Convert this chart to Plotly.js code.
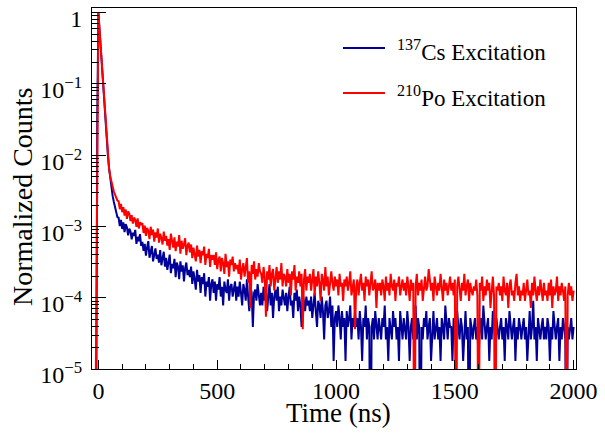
<!DOCTYPE html>
<html>
<head>
<meta charset="utf-8">
<script src="https://cdn.plot.ly/plotly-3.0.1.min.js"></script>
<style>
  html, body { margin: 0; padding: 0; background: #ffffff; }
  #chart { width: 605px; height: 434px; }
</style>
</head>
<body>
<div id="chart"></div>
<script>
// ---- Data ----
// Histogram binning (ns): first bin centre and bin width
const binStartNs = -15;
const binWidthNs = 5;

// 137Cs excitation: counts per bin (normalized to the peak bin when drawn)
const cs137Counts = [
  0, 0, 2500, 77000, 43000, 23500, 12600, 6800, 3750, 2100, 1240, 760, 500, 350, 262, 205, 170, 138, 121, 104,
  102, 78, 95, 71, 88, 64, 83, 75, 58, 72, 66, 51, 63, 57, 69, 44, 55, 48, 60, 41,
  47, 35, 44, 30, 39, 48, 28, 36, 41, 25, 33, 38, 27, 31, 24, 36, 22, 30, 34, 21,
  28, 19, 26, 31, 17, 23, 20, 27, 15, 24, 21, 14, 25, 18, 22, 13, 20, 24, 16, 19,
  15, 21, 12, 18, 14, 10, 19, 13, 16, 9, 15, 12, 17, 8, 13, 11, 15, 7, 12, 14,
  9, 13, 7, 12, 10, 15, 8, 11, 6, 13, 10, 9, 14, 7, 11, 12, 8, 10, 13, 7,
  11, 8, 13, 9, 6, 12, 10, 7, 14, 8, 5, 11, 9, 3, 9, 10, 7, 12, 8, 6,
  9, 6, 11, 7, 10, 5, 8, 12, 6, 9, 4, 8, 10, 7, 11, 5, 8, 6, 10, 7,
  6, 9, 5, 8, 11, 6, 7, 4, 9, 7, 10, 5, 8, 6, 3, 9, 7, 5, 8, 6,
  7, 5, 8, 4, 6, 9, 5, 3, 7, 6, 4, 8, 5, 2, 6, 7, 4, 5, 8, 3,
  6, 1, 4, 5, 3, 6, 4, 2, 5, 3, 4, 1, 5, 3, 4, 6, 2, 4, 3, 5,
  3, 4, 2, 5, 3, 1, 4, 3, 6, 2, 4, 3, 0, 3, 4, 2, 5, 3, 2, 4,
  3, 2, 4, 3, 6, 2, 3, 1, 4, 3, 2, 5, 3, 4, 2, 3, 1, 5, 3, 2,
  4, 3, 2, 5, 3, 1, 3, 4, 2, 3, 6, 2, 4, 3, 0, 3, 2, 4, 3, 5,
  2, 3, 4, 1, 3, 5, 2, 3, 4, 2, 3, 1, 4, 3, 2, 6, 3, 2, 4, 3,
  3, 1, 4, 2, 3, 5, 3, 2, 4, 3, 1, 3, 5, 2, 3, 0, 4, 3, 2, 3,
  4, 2, 3, 1, 3, 4, 2, 6, 3, 2, 3, 4, 1, 3, 2, 5, 3, 2, 4, 3,
  2, 3, 4, 2, 3, 1, 4, 3, 2, 5, 3, 2, 3, 4, 1, 3, 2, 4, 3, 2,
  3, 4, 2, 3, 1, 3, 5, 2, 3, 7, 2, 3, 1, 4, 3, 2, 3, 4, 2, 3,
  2, 4, 3, 1, 3, 2, 5, 3, 2, 3, 4, 1, 3, 2, 4, 3, 2, 0, 3, 2,
  3, 4, 2, 3
];

// 210Po excitation: counts per bin (normalized to the peak bin when drawn)
const po210Counts = [
  0, 3, 2800, 55500, 31100, 17200, 9440, 5160, 2830, 1500, 830, 510, 355, 278, 233, 200, 172, 155, 139, 128,
  126, 97, 115, 88, 104, 79, 96, 71, 90, 84, 66, 80, 61, 74, 69, 55, 72, 52, 64, 58,
  62, 45, 57, 41, 53, 48, 37, 55, 42, 50, 34, 46, 39, 52, 33, 44, 38, 31, 47, 35,
  41, 30, 37, 26, 44, 32, 28, 39, 25, 34, 29, 42, 23, 35, 27, 31, 38, 22, 30, 33,
  24, 31, 20, 28, 23, 18, 30, 21, 26, 17, 25, 22, 29, 16, 23, 20, 27, 15, 22, 19,
  22, 16, 24, 14, 19, 21, 13, 20, 17, 12, 23, 15, 18, 11, 19, 16, 21, 13, 17, 14,
  16, 12, 19, 10, 14, 17, 11, 15, 20, 9, 13, 4, 16, 12, 18, 10, 14, 11, 17, 13,
  12, 9, 15, 11, 3, 13, 10, 16, 8, 12, 14, 7, 11, 15, 9, 13, 10, 17, 8, 12,
  11, 8, 14, 9, 12, 6, 13, 10, 16, 7, 11, 9, 13, 8, 12, 2, 10, 14, 7, 11,
  9, 12, 7, 10, 14, 6, 11, 8, 13, 9, 5, 12, 10, 7, 15, 8, 11, 6, 10, 13,
  9, 7, 11, 8, 10, 6, 12, 8, 9, 5, 10, 8, 11, 7, 9, 13, 6, 8, 10, 2,
  8, 10, 6, 9, 12, 7, 9, 5, 11, 8, 10, 6, 9, 13, 7, 8, 10, 4, 9, 7,
  9, 6, 10, 8, 5, 11, 7, 9, 6, 12, 8, 7, 10, 5, 9, 8, 11, 6, 8, 10,
  7, 9, 6, 11, 8, 5, 10, 7, 9, 0, 8, 12, 6, 9, 7, 10, 5, 8, 11, 7,
  8, 14, 10, 7, 9, 5, 11, 8, 6, 9, 7, 12, 8, 5, 10, 7, 9, 6, 8, 11,
  7, 9, 6, 10, 0, 8, 11, 7, 5, 9, 7, 12, 6, 8, 10, 5, 9, 7, 6, 8,
  7, 10, 6, 0, 9, 7, 11, 5, 8, 6, 10, 7, 9, 4, 8, 11, 6, 0, 8, 7,
  9, 6, 8, 5, 11, 7, 6, 9, 4, 8, 10, 6, 7, 5, 9, 12, 6, 8, 5, 7,
  6, 9, 5, 8, 10, 6, 7, 4, 9, 6, 11, 7, 5, 8, 6, 10, 7, 5, 9, 6,
  7, 5, 9, 6, 10, 4, 8, 6, 7, 11, 5, 8, 6, 9, 7, 5, 8, 0, 6, 9,
  6, 8, 5, 7
];

const seriesNames = ['<sup>137</sup>Cs Excitation', '<sup>210</sup>Po Excitation'];
const seriesColors = ['#000099', '#ff0000'];

const xTickVals = [0, 500, 1000, 1500, 2000];
const xTickText = ['0', '500', '1000', '1500', '2000'];
const yTickVals = [1e-5, 1e-4, 1e-3, 1e-2, 1e-1, 1];
const yTickText = ['10<sup>\u22125</sup>', '10<sup>\u22124</sup>', '10<sup>\u22123</sup>', '10<sup>\u22122</sup>', '10<sup>\u22121</sup>', '1'];

const xAxisTitle = 'Time (ns)';
const yAxisTitle = 'Normalized Counts';

// ---- Build traces ----
// Empty bins are drawn down past the axis floor, as ROOT does on a log scale.
const EMPTY_BIN_FLOOR = 1e-7;
function binCentres(n) {
  const t = [];
  for (let i = 0; i < n; i++) t.push(binStartNs + i * binWidthNs);
  return t;
}
function normalize(counts) {
  const peak = Math.max.apply(null, counts);
  return counts.map(c => (c > 0 ? c / peak : EMPTY_BIN_FLOOR));
}

const allCounts = [cs137Counts, po210Counts];
const traces = allCounts.map((counts, k) => ({
  type: 'scatter',
  mode: 'lines',
  x: binCentres(counts.length),
  y: normalize(counts),
  name: seriesNames[k],
  line: { color: seriesColors[k], width: 2 },
  showlegend: false,
  hoverinfo: 'skip'
}));

// minor log ticks (2..9 per decade)
const yMinor = [];
for (let e = -5; e < 0; e++) for (let m = 2; m <= 9; m++) yMinor.push(m * Math.pow(10, e));

const FONT = 'Liberation Serif';

// plot-area geometry (px) used to place the hand-drawn ROOT-style legend
const L = 92, R = 29, T = 8, B = 65, W = 605, H = 434;
const pw = W - L - R, ph = H - T - B;
const px = X => (X - L) / pw;
const py = Y => (H - B - Y) / ph;

const legendRows = [48, 93];
const shapes = legendRows.map((Y, k) => ({
  type: 'line', xref: 'paper', yref: 'paper',
  x0: px(343), x1: px(385), y0: py(Y), y1: py(Y),
  line: { color: seriesColors[k], width: 2 }
}));

const annotations = legendRows.map((Y, k) => ({
  xref: 'paper', yref: 'paper', x: px(395), y: py(Y + 3),
  xanchor: 'left', yanchor: 'middle', showarrow: false,
  text: seriesNames[k], font: { family: FONT, size: 23, color: '#000' }
}));
annotations.push({
  xref: 'paper', yref: 'paper', x: px(338), y: py(413),
  xanchor: 'center', yanchor: 'middle', showarrow: false,
  text: xAxisTitle, font: { family: FONT, size: 27, color: '#000' }
});
annotations.push({
  xref: 'paper', yref: 'paper', x: px(22), y: py(197),
  xanchor: 'center', yanchor: 'middle', showarrow: false, textangle: -90,
  text: yAxisTitle, font: { family: FONT, size: 28, color: '#000' }
});

const layout = {
  width: W, height: H,
  margin: { l: L, r: R, t: T, b: B, pad: 0 },
  paper_bgcolor: '#ffffff', plot_bgcolor: '#ffffff',
  showlegend: false,
  font: { family: FONT, color: '#000', size: 24 },
  xaxis: {
    range: [-27, 2010],
    tickmode: 'array', tickvals: xTickVals, ticktext: xTickText,
    ticks: 'inside', ticklen: 9, tickwidth: 1, tickcolor: '#000',
    minor: { tickmode: 'linear', tick0: 0, dtick: 100, ticks: 'inside', ticklen: 5, tickwidth: 1, tickcolor: '#000', showgrid: false },
    showline: true, linecolor: '#000', linewidth: 1, mirror: true,
    showgrid: false, zeroline: false,
    tickfont: { family: FONT, size: 24, color: '#000' },
    ticklabelstandoff: 0
  },
  yaxis: {
    type: 'log',
    range: [-5, 0.066],
    tickmode: 'array', tickvals: yTickVals, ticktext: yTickText,
    ticks: 'inside', ticklen: 14, tickwidth: 1, tickcolor: '#000',
    minor: { tickmode: 'array', tickvals: yMinor, ticks: 'inside', ticklen: 7, tickwidth: 1, tickcolor: '#000', showgrid: false },
    showline: true, linecolor: '#000', linewidth: 1, mirror: true,
    showgrid: false, zeroline: false,
    tickfont: { family: FONT, size: 24, color: '#000' },
    ticklabelshift: 6,
    ticklabelstandoff: 4
  },
  shapes: shapes,
  annotations: annotations
};

Plotly.newPlot('chart', traces, layout, { staticPlot: true, displayModeBar: false });
</script>
</body>
</html>
